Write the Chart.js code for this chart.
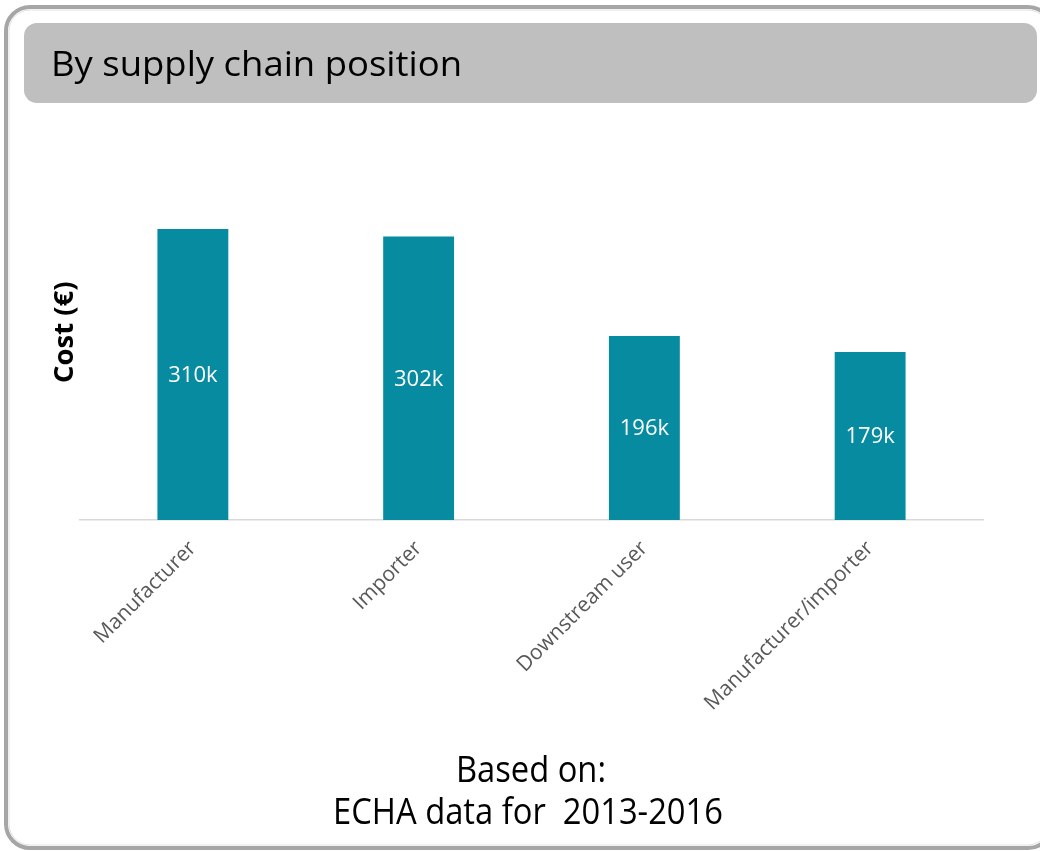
<!DOCTYPE html>
<html>
<head>
<meta charset="utf-8">
<script src="https://cdn.jsdelivr.net/npm/chart.js@4"></script>
<style>
  html, body { margin: 0; padding: 0; background: #ffffff; }
  #wrap { width: 1040px; height: 851px; position: relative; overflow: hidden; }
  canvas { display: block; }
</style>
</head>
<body>
<div id="wrap"><canvas id="c" width="1040" height="851"></canvas></div>
<script>
// ---- data ----
const categories = ['Manufacturer', 'Importer', 'Downstream user', 'Manufacturer/importer'];
const costK = [310, 302, 196, 179];
const valueLabels = ['310k', '302k', '196k', '179k'];
const titleText = 'By supply chain position';
const yAxisTitle = 'Cost (€)';
const footerLines = ['Based on:', 'ECHA data for  2013-2016'];
const yMax = 400;

function fitText(ctx, text, x, y, font, targetWidth, align) {
  ctx.save();
  ctx.font = font;
  const w = ctx.measureText(text).width;
  const s = targetWidth / w;
  ctx.translate(x, y);
  ctx.scale(s, 1);
  ctx.textAlign = align;
  ctx.textBaseline = 'alphabetic';
  ctx.fillText(text, 0, 0);
  ctx.restore();
}

const framePlugin = {
  id: 'frame',
  beforeDraw(chart) {
    const ctx = chart.ctx;
    ctx.save();
    ctx.fillStyle = '#ffffff';
    ctx.fillRect(0, 0, chart.width, chart.height);
    // outer frame
    ctx.beginPath();
    ctx.roundRect(6, 7, 1046, 841, 24);
    ctx.lineWidth = 4;
    ctx.strokeStyle = '#a6a6a6';
    ctx.stroke();
    ctx.beginPath();
    ctx.roundRect(9, 10, 1040, 835, 21);
    ctx.lineWidth = 1;
    ctx.strokeStyle = '#e3e3e3';
    ctx.stroke();
    // title bar
    ctx.beginPath();
    ctx.roundRect(24, 23, 1013, 80, 13);
    ctx.fillStyle = '#bfbfbf';
    ctx.fill();
    ctx.fillStyle = '#000000';
    fitText(ctx, titleText, 51, 76, '35px "Open Sans"', 411, 'left');
    // footer
    fitText(ctx, footerLines[0], 531, 782, '36px "Open Sans"', 150, 'center');
    fitText(ctx, footerLines[1], 528, 824, '36px "Open Sans"', 390, 'center');
    ctx.restore();
  }
};

const valueLabelPlugin = {
  id: 'valueLabels',
  afterDatasetsDraw(chart) {
    const ctx = chart.ctx;
    const meta = chart.getDatasetMeta(0);
    ctx.save();
    ctx.fillStyle = '#ffffff';
    ctx.font = '22px "Open Sans"';
    ctx.textAlign = 'center';
    ctx.textBaseline = 'middle';
    meta.data.forEach((el, i) => {
      ctx.fillText(valueLabels[i], el.x, (el.y + el.base) / 2 + 1);
    });
    ctx.restore();
  }
};

new Chart(document.getElementById('c'), {
  type: 'bar',
  data: {
    labels: categories,
    datasets: [{
      data: costK,
      backgroundColor: '#078ba1',
      borderWidth: 0,
      barPercentage: 0.314,
      categoryPercentage: 1.0
    }]
  },
  options: {
    responsive: false,
    devicePixelRatio: 1,
    animation: false,
    layout: { padding: { top: 144.5, right: 57, bottom: 0, left: 0 } },
    plugins: {
      legend: { display: false },
      tooltip: { enabled: false },
      title: { display: false }
    },
    scales: {
      x: {
        grid: { display: false },
        border: { display: true, color: '#d9d9d9', width: 1.5 },
        ticks: {
          color: '#595959',
          font: { family: 'Open Sans', size: 21 },
          minRotation: 45,
          maxRotation: 45,
          padding: 8
        },
        afterFit(s) { s.height = 331; }
      },
      y: {
        min: 0,
        max: yMax,
        grid: { display: false },
        border: { display: false },
        ticks: { display: false },
        title: {
          display: true,
          text: yAxisTitle,
          color: '#000000',
          font: { family: 'Open Sans', size: 27.5, weight: 'bold' },
          padding: { top: 49, bottom: 0 }
        },
        afterFit(s) { s.width = 80; }
      }
    }
  },
  plugins: [framePlugin, valueLabelPlugin]
});
</script>
</body>
</html>
